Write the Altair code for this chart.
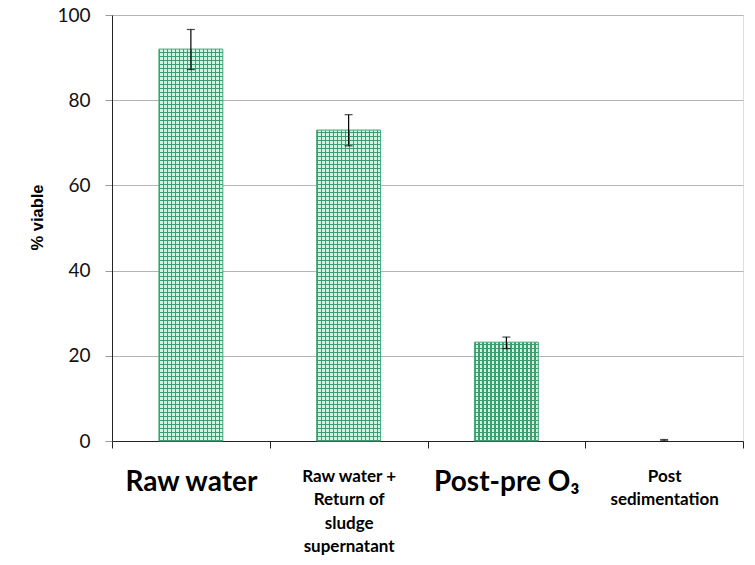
import math
import altair as alt
import pandas as pd

categories = ["Raw water", "Raw water +|Return of|sludge|supernatant", "Post-pre O₃", "Post|sedimentation"]
values = [92.0, 73.0, 23.2, 0.1]
err_low = [87.2, 69.3, 21.7, 0.05]
err_high = [96.6, 76.6, 24.4, 0.35]

df = pd.DataFrame({"cat": categories, "val": values, "lo": err_low, "hi": err_high})

# ---- styling: grid-like hatch fill built from gradients ----
PLOT_W, PLOT_H = 631, 426
BAR_FRAC = 0.405
CELL = 4.0          # pixel period of the hatch
LINE_PX = 1.4       # line thickness in pixels
LINE_COL = "#3d9d70"
BG_COL = "#d4f1e1"
CLEAR = "rgba(255,255,255,0)"


def stripes(length_px, on, off, horizontal):
    n = max(1, math.ceil(length_px / CELL))
    span = n * CELL / length_px
    f = LINE_PX / CELL
    stops = []
    for i in range(n):
        a, b, c = i / n, (i + f) / n, (i + 1) / n
        stops += [
            {"offset": round(a, 6), "color": on},
            {"offset": round(b, 6), "color": on},
            {"offset": round(b, 6), "color": off},
            {"offset": round(c, 6), "color": off},
        ]
    g = {"gradient": "linear", "stops": stops}
    if horizontal:
        g.update({"x1": 0, "x2": 0, "y1": 1, "y2": round(1 - span, 6)})
    else:
        g.update({"x1": 0, "x2": round(span, 6), "y1": 0, "y2": 0})
    return g


bar_px = PLOT_W / len(categories) * BAR_FRAC
vert_grad = stripes(bar_px, LINE_COL, BG_COL, False)
conds = []
for c, v in zip(categories, values):
    if v >= 1:
        conds.append({"test": f"datum.cat === '{c}'",
                      "value": stripes(v / 100 * PLOT_H, LINE_COL, CLEAR, True)})
horiz_fill = {"condition": conds, "value": CLEAR}

x = alt.X(
    "cat:N",
    sort=categories,
    title=None,
    scale=alt.Scale(paddingInner=0, paddingOuter=0),
    axis=alt.Axis(
        tickBand="extent",
        labelAngle=0,
        labelExpr="split(datum.label, '|')",
        labelFont="Lato",
        labelFontWeight="bold",
        labelColor="#000000",
        labelFontSize={"condition": {"test": "indexof(datum.label, '|') < 0", "value": 28}, "value": 17},
        labelLineHeight=23.5,
        labelPadding=20,
        labelLimit=400,
        labelBaseline="top",
        domainColor="#222222",
        tickColor="#222222",
        tickSize=7,
        grid=False,
    ),
)

y_scale = alt.Scale(domain=[0, 100], nice=False)

y_axis = alt.Axis(
    values=[0, 20, 40, 60, 80, 100],
    titleFont="Liberation Sans",
    titleFontWeight="bold",
    titleFontSize=16.5,
    titleColor="#000000",
    titlePadding=11,
    titleY=202,
    labelFont="Lato",
    labelFontSize=19,
    labelColor="#111111",
    labelPadding=15,
    tickSize=7,
    tickColor="#999999",
    domainColor="#222222",
    gridColor="#b5b5b5",
    gridWidth=1,
)

bars = alt.Chart(df).mark_bar(
    width=alt.RelativeBandSize(BAR_FRAC),
    fill=vert_grad,
    stroke="#45a97a",
    strokeWidth=1,
).encode(
    x=x,
    y=alt.Y("val:Q", scale=y_scale, title="% viable", axis=y_axis),
    strokeOpacity=alt.condition("datum.val < 1", alt.value(0), alt.value(1)),
    fillOpacity=alt.condition("datum.val < 1", alt.value(0), alt.value(1)),
)

hatch = alt.Chart(df).mark_bar(
    width=alt.RelativeBandSize(BAR_FRAC),
    strokeWidth=0,
).encode(
    x=alt.X("cat:N", sort=categories),
    y=alt.Y("val:Q", scale=y_scale),
    fill=horiz_fill,
)

rules = alt.Chart(df).mark_rule(color="#000000", strokeWidth=1.2).encode(
    x=alt.X("cat:N", sort=categories),
    y=alt.Y("lo:Q", scale=y_scale),
    y2="hi:Q",
)

caps_hi = alt.Chart(df).mark_tick(color="#000000", size=8, thickness=1.2, orient="horizontal").encode(
    x=alt.X("cat:N", sort=categories),
    y=alt.Y("hi:Q", scale=y_scale),
)
caps_lo = alt.Chart(df).mark_tick(color="#000000", size=8, thickness=1.2, orient="horizontal").encode(
    x=alt.X("cat:N", sort=categories),
    y=alt.Y("lo:Q", scale=y_scale),
)

chart = alt.layer(bars, hatch, rules, caps_hi, caps_lo).properties(
    width=PLOT_W,
    height=PLOT_H,
    autosize=alt.AutoSizeParams(type="none"),
    padding={"left": 112, "top": 15, "right": 12, "bottom": 124},
).configure_view(stroke=None).configure(background="#ffffff")

chart.save("out.html", embed_options={"renderer": "svg", "actions": False})
